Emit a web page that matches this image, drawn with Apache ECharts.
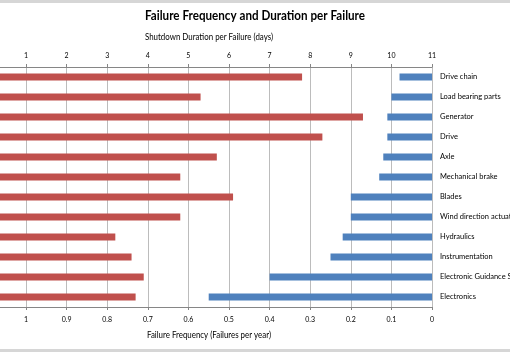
<!DOCTYPE html>
<html><head><meta charset="utf-8">
<script src="https://cdn.jsdelivr.net/npm/echarts@6/dist/echarts.min.js"></script>
<style>html,body{margin:0;padding:0;background:#fff}#c{width:510px;height:352px}</style>
</head><body><div id="c"></div>
<script>
const categories = ['Drive chain','Load bearing parts','Generator','Drive','Axle','Mechanical brake','Blades','Wind direction actuation','Hydraulics','Instrumentation','Electronic Guidance System','Electronics'];
const durationDays = [7.8, 5.3, 9.3, 8.3, 5.7, 4.8, 6.1, 4.8, 3.2, 3.6, 3.9, 3.7];
const failuresPerYear = [0.08, 0.10, 0.11, 0.11, 0.12, 0.13, 0.20, 0.20, 0.22, 0.25, 0.40, 0.55];
const title = 'Failure Frequency and Duration per Failure';
const topAxisName = 'Shutdown Duration per Failure (days)';
const bottomAxisName = 'Failure Frequency (Failures per year)';

const FONT = 'Lato, "Open Sans", sans-serif';
const ctx = document.createElement('canvas').getContext('2d');
function fitScale(text, font, target){ ctx.font = font; return target / ctx.measureText(text).width; }
function fittedText(text, size, weight, cx, cy, targetW){
  const s = fitScale(text, weight + ' ' + size + 'px ' + FONT, targetW);
  return {type:'text', x: cx, y: cy, scaleX: s, scaleY: 1, originX: 0, originY: 0,
    style:{text: text, x:0, y:0, fontSize: size, fontWeight: weight, fontFamily: FONT, fill:'#000', align:'center', verticalAlign:'middle'}};
}
const chart = echarts.init(document.getElementById('c'), null, {renderer:'canvas'});
chart.setOption({
  animation: false,
  backgroundColor: '#fff',
  textStyle: {fontFamily: FONT},
  graphic: [
    {type:'rect', shape:{x:0,y:0,width:510,height:3}, style:{fill:'#d6d6d6'}},
    {type:'rect', shape:{x:0,y:349,width:510,height:3}, style:{fill:'#d6d6d6'}},
    fittedText(title, 14, 'bold', 255, 15, 220),
    fittedText(topAxisName, 9, 'normal', 209, 37, 128),
    fittedText(bottomAxisName, 9, 'normal', 209, 335, 124)
  ],
  grid: {left: -14.6, right: 78, top: 67, bottom: 45, containLabel: false, outerBoundsMode: 'none'},
  xAxis: [
    {type:'value', position:'top', min:0, max:11, interval:1,
     axisLine:{show:true, lineStyle:{color:'#868686'}},
     axisTick:{show:true, length:3, lineStyle:{color:'#868686'}},
     axisLabel:{fontSize:7, color:'#000', margin:8},
     splitLine:{show:true, lineStyle:{color:'#bcbcbc', width:1}}},
    {type:'value', position:'bottom', min:0, max:1.1, interval:0.1, inverse:true,
     axisLine:{show:true, lineStyle:{color:'#868686'}},
     axisTick:{show:true, length:3, lineStyle:{color:'#868686'}},
     axisLabel:{fontSize:7, color:'#000', margin:9, formatter: v => String(Math.round(v*10)/10)},
     splitLine:{show:false}}
  ],
  yAxis: {type:'category', data: categories, inverse:true, position:'right',
    axisLine:{show:true, lineStyle:{color:'#868686'}},
    axisTick:{show:true, length:3, lineStyle:{color:'#868686'}},
    axisLabel:{fontSize:7.5, color:'#000', margin:8, align:'left'},
    splitLine:{show:false}},
  series: [
    {type:'bar', name:'Duration', xAxisIndex:0, data: durationDays, barWidth:7, barGap:'-100%', itemStyle:{color:'#C0504D'}},
    {type:'bar', name:'Frequency', xAxisIndex:1, data: failuresPerYear, barWidth:7, barGap:'-100%', itemStyle:{color:'#4F81BD'}}
  ]
});
</script></body></html>
